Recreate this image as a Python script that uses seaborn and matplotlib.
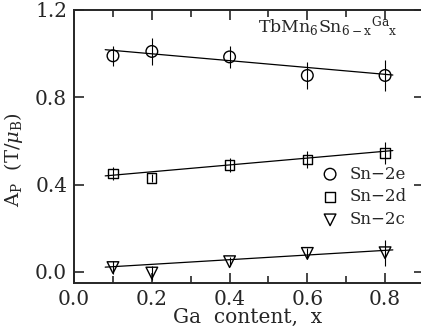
import numpy as np
import pandas as pd
import matplotlib
matplotlib.use('Agg')
import matplotlib.pyplot as plt
import seaborn as sns
from matplotlib.ticker import MultipleLocator

## data
ga_x = [0.1, 0.2, 0.4, 0.6, 0.8]

sn2e_y = [0.99, 1.01, 0.985, 0.90, 0.90]
sn2e_err = [0.045, 0.06, 0.05, 0.06, 0.07]

sn2d_y = [0.45, 0.43, 0.49, 0.515, 0.545]
sn2d_err = [0.03, 0.02, 0.03, 0.04, 0.05]

sn2c_y = [0.02, -0.005, 0.047, 0.085, 0.088]
sn2c_err = [0.03, 0.03, 0.02, 0.025, 0.06]

## fit lines (end points)
fit_x = [0.08, 0.82]
sn2e_fit = [1.018, 0.902]
sn2d_fit = [0.44, 0.556]
sn2c_fit = [0.022, 0.101]

series = [
    ('Sn\u22122e', 'o', sn2e_y, sn2e_err, sn2e_fit),
    ('Sn\u22122d', 's', sn2d_y, sn2d_err, sn2d_fit),
    ('Sn\u22122c', 'v', sn2c_y, sn2c_err, sn2c_fit),
]

## style
sns.set_style('ticks')
plt.rcParams['font.family'] = ['DejaVu Serif']
plt.rcParams['mathtext.fontset'] = 'dejavuserif'

fig = plt.figure(figsize=(4.21, 3.32), dpi=100)
ax = fig.add_axes([0.176, 0.148, 0.831, 0.822])

marker_sizes = {'o': 70, 's': 45, 'v': 70}

for name, mk, y, err, fit in series:
    fit_df = pd.DataFrame({'x': fit_x, 'y': fit})
    sns.lineplot(data=fit_df, x='x', y='y', ax=ax, color='black', lw=0.9)
    ax.errorbar(ga_x, y, yerr=err, fmt='none', ecolor='black', elinewidth=0.8)
    df = pd.DataFrame({'x': ga_x, 'y': y})
    sns.scatterplot(data=df, x='x', y='y', ax=ax, marker=mk, s=marker_sizes[mk],
                    facecolor='none', edgecolor='black', linewidth=1.0, label=name, zorder=3)

## axes
ax.set_xlim(0, 0.9)
ax.set_ylim(-0.05, 1.2)
ax.xaxis.set_major_locator(MultipleLocator(0.2))
ax.xaxis.set_minor_locator(MultipleLocator(0.1))
ax.yaxis.set_major_locator(MultipleLocator(0.4))
ax.xaxis.set_major_formatter(plt.FormatStrFormatter('%.1f'))
ax.yaxis.set_major_formatter(plt.FormatStrFormatter('%.1f'))
ax.tick_params(which='both', direction='in', top=True, right=True, labelsize=14.5, width=1.2)
ax.tick_params(which='major', length=7, pad=5)
ax.tick_params(which='minor', length=5)
for sp in ax.spines.values():
    sp.set_linewidth(1.4)

ax.set_xlabel('Ga  content,  x', fontsize=14.5)
ax.xaxis.set_label_coords(0.497, -0.09)
ax.set_ylabel(r'A$_\mathregular{P}$  (T/$\mu_\mathregular{B}$)', fontsize=14)
ax.yaxis.set_label_coords(-0.14, 0.45)

ax.text(0.527, 0.916,
        r'TbMn$_\mathregular{6}$Sn$_\mathregular{6-x}$$^\mathregular{Ga}$$_\mathregular{x}$',
        transform=ax.transAxes, fontsize=12.5)

leg = ax.legend(loc='center left', bbox_to_anchor=(0.665, 0.315), frameon=False,
                fontsize=12, handletextpad=0.7, labelspacing=0.35, handlelength=1.0)

plt.savefig('out.png', dpi=100)
